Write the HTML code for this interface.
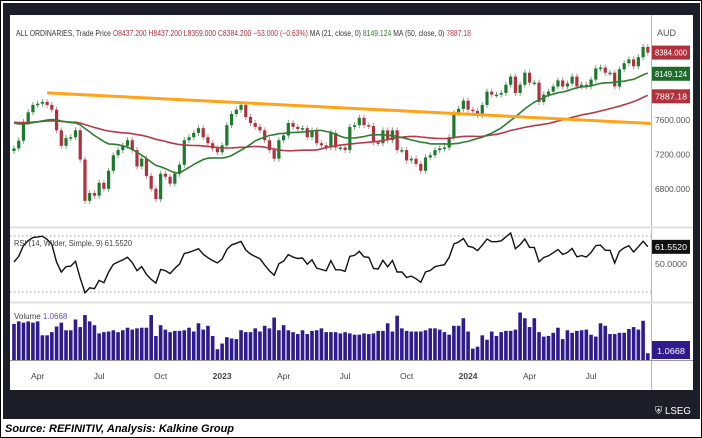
<!DOCTYPE html>
<html><head><meta charset="utf-8"><style>
html,body{margin:0;padding:0;background:#fff;}
#root{position:relative;width:702px;height:438px;overflow:hidden;font-family:"Liberation Sans",sans-serif;}
svg{position:absolute;left:0;top:0;}
</style></head><body>
<div id="root">
<svg id="chart" width="702" height="438" viewBox="0 0 702 438">
  <rect x="0.5" y="0.5" width="701" height="437" fill="#fff" stroke="#000" stroke-width="1"/>
  <rect x="3" y="3" width="697" height="416" fill="#1c1f2a"/>
  <rect x="10" y="15" width="683" height="375" fill="#fff"/>
  <line x1="651.5" y1="15" x2="651.5" y2="390" stroke="#b8b8b8"/>
  <line x1="10" y1="227.5" x2="693" y2="227.5" stroke="#e0e0e0" stroke-width="2"/>
  <line x1="10" y1="302.5" x2="693" y2="302.5" stroke="#e0e0e0" stroke-width="2"/>
  <line x1="10" y1="360.5" x2="693" y2="360.5" stroke="#9a9a9a"/>
  <g id="price"></g>
  <g id="rsi"></g>
  <g id="vol"></g>
  <g id="xaxis"></g>
  <text x="16" y="36" font-size="8.6" fill="#333" textLength="455" lengthAdjust="spacingAndGlyphs">ALL ORDINARIES, Trade Price  <tspan fill="#b0303c">O8437.200  H8437.200  L8359.000  C8384.200  −53.000 (−0.63%)</tspan>    MA (21, close, 0) <tspan fill="#2e7d32">8149.124</tspan>    MA (50, close, 0) <tspan fill="#b5394a">7887.18</tspan></text>
  <text x="657" y="36" font-size="9" fill="#555">AUD</text>
  <text x="14" y="246" font-size="8" fill="#444" textLength="118" lengthAdjust="spacingAndGlyphs">RSI (14, Wilder, Simple, 9) 61.5520</text>
  <text x="14" y="319" font-size="8" fill="#444">Volume <tspan fill="#5b4fc4">1.0668</tspan></text>
  <text x="655" y="414" font-size="10" fill="#fff" textLength="36" lengthAdjust="spacingAndGlyphs">⛨ LSEG</text>
  <text x="5" y="432" font-size="11" font-weight="bold" font-style="italic" fill="#000">Source: REFINITIV, Analysis: Kalkine Group</text>
</svg>
</div>
<script>
const closes = [7270,7360,7575,7690,7775,7790,7810,7775,7720,7480,7300,7390,7400,7480,7140,6660,6750,6720,6870,6800,7010,7190,7250,7300,7365,7250,7060,7150,6950,6800,6680,6975,6940,6860,6975,7080,7365,7400,7450,7505,7400,7330,7270,7225,7305,7540,
7670,7720,7775,7635,7565,7520,7480,7365,7250,7150,7365,7420,7565,7520,7495,7505,7400,7480,7330,7305,7280,7450,7280,7280,7250,7520,7540,7625,7540,7530,7340,7330,7480,7365,7480,7250,7250,7130,7150,7090,7010,7165,7190,7250,
7270,7280,7400,7680,7730,7825,7720,7705,7660,7775,7930,7895,7895,7915,8010,8105,7915,8010,8150,8035,8035,7810,7895,7930,7990,8060,7990,8025,8105,7990,8010,7990,8070,8200,8210,8150,8150,7990,8190,8260,8305,8225,8330,8450,8384];
const firstOpen = 7240;
const volumes = [5.7,6.1,5.9,6.1,5.9,6.1,3.9,3.9,4.4,5.3,5.9,4.7,4.7,6.4,5.2,7.1,6.1,5.5,4.2,4.4,4.5,4.7,4.4,4.7,5.1,4.8,5.0,5.1,5.1,7.1,3.8,5.5,4.8,4.4,4.6,4.6,4.7,5.1,4.5,5.8,4.8,5.4,3.8,1.7,2.6,3.6,3.4,3.3,4.7,4.4,4.4,5.0,4.5,5.4,5.0,6.7,4.7,5.5,4.7,4.4,4.1,4.7,4.1,4.6,4.7,5.0,4.4,4.4,4.4,4.2,
4.4,4.2,4.0,4.0,4.2,4.1,4.2,4.6,4.6,5.8,4.5,7.0,5.0,4.6,4.5,4.5,4.5,4.7,5.0,5.0,4.8,4.4,4.0,5.4,5.4,6.6,4.5,1.8,2.1,3.9,3.2,4.5,3.8,4.4,4.6,4.6,4.8,7.5,6.6,5.2,6.6,4.4,3.7,3.8,4.3,5.1,3.3,4.7,4.3,4.6,4.7,4.8,4.0,3.7,5.8,5.4,4.1,4.1,4.3,4.3,4.9,5.2,4.8,6.2,1.07];
const seedLevel = 7580;
const priceTicks = [7600,7200,6800];
const rsiLevels = [70,50,30];
const tickLabels = ["Apr","Jul","Oct","2023","Apr","Jul","Oct","2024","Apr","Jul"];
const tickIndex = [5,18,31,44,57,70,83,96,109,122];
const trendStart = [7, 7915];
const trendEnd = [134.6, 7560];
const lastMA21 = "8149.124", lastMA50 = "7887.18", lastRSI = "61.5520", lastVol = "1.0668";

const NS="http://www.w3.org/2000/svg";
function mk(tag,attrs,parent){const e=document.createElementNS(NS,tag);for(const k in attrs)e.setAttribute(k,attrs[k]);parent.appendChild(e);return e;}
const X=i=>14+i*4.73;
const Y=v=>120+(7600-v)*0.086;
const RY=r=>236+(70-r)*56/40;
const VY=v=>360-v*6.33;
const gP=document.getElementById('price'),gR=document.getElementById('rsi'),gV=document.getElementById('vol'),gX=document.getElementById('xaxis'),svg=document.getElementById('chart');

closes.forEach((c,i)=>{
  const o=i===0?firstOpen:closes[i-1];
  const up=c>=o, col=up?'#1b7a2e':'#b0303c';
  const hi=Math.max(o,c)+35, lo=Math.min(o,c)-35;
  const w=mk('line',{x1:X(i),x2:X(i),y1:Y(hi),y2:Y(lo),stroke:up?'#6fa978':'#d48a94','stroke-width':1},gP);
  
  
  const top=Y(Math.max(o,c)),bot=Y(Math.min(o,c));
  const b=mk('rect',{x:X(i)-1.6,y:top,width:3.2,height:Math.max(1.5,bot-top),fill:col},gP);
  
  
});
function ma(n){const all=Array(50).fill(seedLevel).concat(closes);return closes.map((_,i)=>{let s=0;for(let k=0;k<n;k++)s+=all[50+i-k];return s/n;});}
function path(vals,fy){return vals.map((v,i)=>(i?'L':'M')+X(i).toFixed(1)+' '+fy(v).toFixed(1)).join(' ');}
const m50=mk('path',{d:path(ma(50),Y),fill:'none',stroke:'#b5394a','stroke-width':1.6},gP);


const m21=mk('path',{d:path(ma(21),Y),fill:'none',stroke:'#2e7d32','stroke-width':1.6},gP);


const tl=mk('line',{x1:X(trendStart[0]),y1:Y(trendStart[1]),x2:X(trendEnd[0]),y2:Y(trendEnd[1]),stroke:'#ffa31a','stroke-width':3},gP);


priceTicks.forEach(v=>{
  const t=mk('text',{x:655,y:Y(v)+3,'font-size':8.5,fill:'#555',textLength:35,lengthAdjust:'spacingAndGlyphs'},svg);
  t.textContent=v.toFixed(3);
  
  
});
function badge(val,txt,fill,name,fy){
  const y=fy(val);
  const r=mk('rect',{x:652,y:y-7,width:38,height:14,fill:fill},svg);
  
  
  const t=mk('text',{x:655,y:y+3,'font-size':8.5,fill:'#fff',textLength:32,lengthAdjust:'spacingAndGlyphs'},svg);
  t.textContent=txt;
  
  
}
badge(closes[closes.length-1],closes[closes.length-1].toFixed(3),'#b0303c','last-price-badge',Y);
badge(parseFloat(lastMA21),lastMA21,'#1e6b2a','ma21-badge',v=>Y(v)+1);
badge(parseFloat(lastMA50),lastMA50,'#b0303c','ma50-badge',v=>Y(v)+1);
const rsi=[];let ag=40,al=40;
closes.forEach((c,i)=>{const p=i?closes[i-1]:firstOpen;const d=c-p;ag=(ag*13+Math.max(d,0))/14;al=(al*13+Math.max(-d,0))/14;rsi.push(100-100/(1+ag/al));});
[70,30].forEach(l=>{
  const d=mk('line',{x1:10,x2:651,y1:RY(l),y2:RY(l),stroke:'#999','stroke-dasharray':'1.5 2.5'},gR);
  
  
});
const rp=mk('path',{d:path(rsi,RY),fill:'none',stroke:'#111','stroke-width':1.4},gR);


const rb=mk('rect',{x:652,y:RY(parseFloat(lastRSI))-8,width:38,height:14,fill:'#111'},svg);


const rt=mk('text',{x:655,y:RY(parseFloat(lastRSI))+2,'font-size':8.5,fill:'#fff',textLength:32,lengthAdjust:'spacingAndGlyphs'},svg);
rt.textContent=lastRSI;


const r50=mk('text',{x:655,y:RY(50)+3,'font-size':8.5,fill:'#555',textLength:32,lengthAdjust:'spacingAndGlyphs'},svg);
r50.textContent=rsiLevels[1].toFixed(4);


volumes.forEach((v,i)=>{
  const b=mk('rect',{x:X(i)-1.8,y:VY(v),width:3.6,height:360-VY(v),fill:'#2f1a8e'},gV);
  
  
});
const vb=mk('rect',{x:652,y:341,width:38,height:18,fill:'#2f1a8e'},svg);


const vt=mk('text',{x:657,y:354,'font-size':8.5,fill:'#fff',textLength:28,lengthAdjust:'spacingAndGlyphs'},svg);
vt.textContent=lastVol;


tickLabels.forEach((l,k)=>{
  const t=mk('text',{x:X(tickIndex[k]),y:379,'font-size':8.5,fill:'#444','text-anchor':'middle','font-weight':/^\d/.test(l)?'bold':'normal'},gX);
  t.textContent=l;
  
  
});
</script>
</body></html>
